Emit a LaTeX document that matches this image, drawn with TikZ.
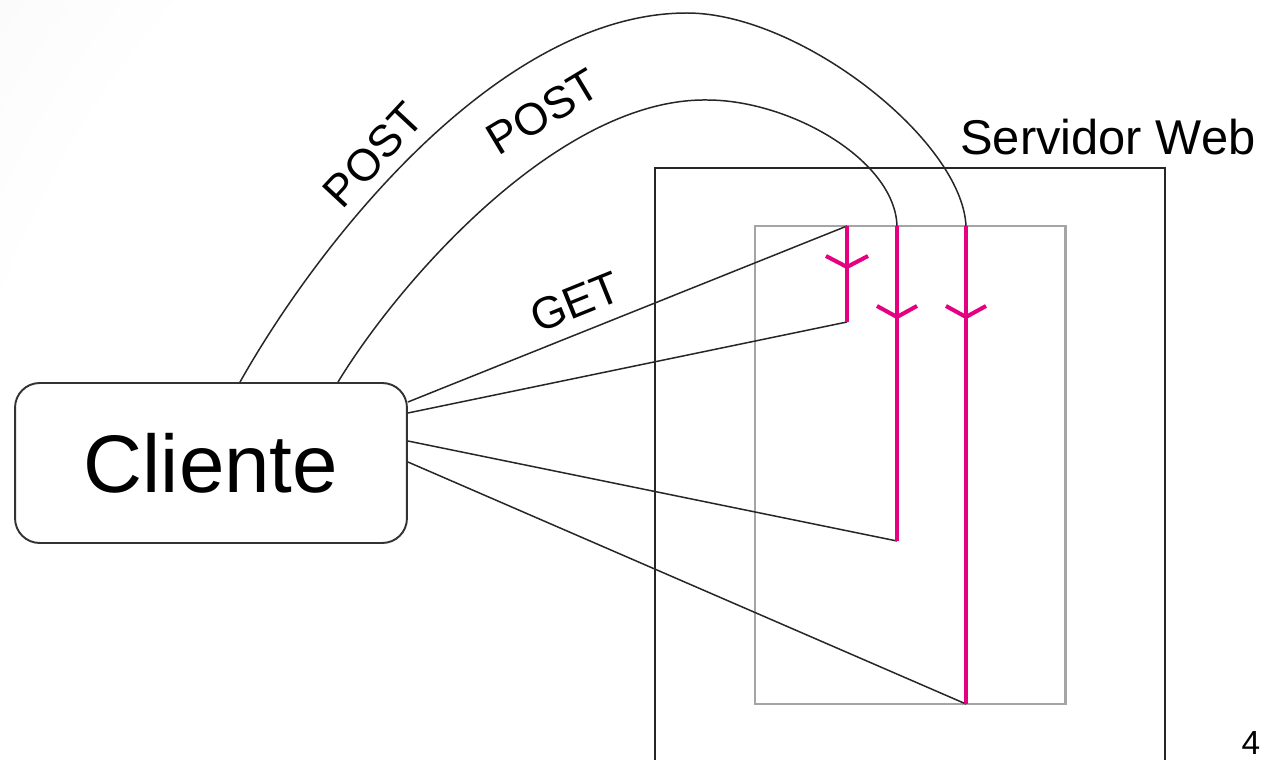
\documentclass[tikz,border=0pt]{standalone}
\usepackage{fontspec}
\setmainfont{Liberation Sans}
\usetikzlibrary{calc}
\definecolor{reqpink}{RGB}{228,0,128}
\definecolor{boxgray}{RGB}{165,165,165}
\pgfdeclareradialshading{bgglow}{\pgfpoint{0bp}{0bp}}{color(0bp)=(white); color(20bp)=(white); color(50bp)=(black!14)}
\begin{document}
\begin{tikzpicture}[x=0.02cm,y=-0.02cm,
  wire/.style={draw=black!85, line width=0.85pt},
  flow/.style={draw=reqpink, line width=2.3pt},
  lbl/.style={font=\fontsize{25.5}{26}\selectfont, inner sep=0pt},
]
\useasboundingbox (0,0) rectangle (1276,760);
% soft background
\begin{scope}
  \clip (0,0) rectangle (1276,760);
  \fill[black!14] (0,0) rectangle (1276,760);
  \shade[shading=bgglow] (880,620) circle (1150);
\end{scope}

% web server frame, open at the bottom
\draw[line width=0.9pt, black!85] (655,760) -- (655,168) -- (1165,168) -- (1165,760);
% inner frame
\draw[boxgray, line width=1.7pt] (755,226) rectangle (1065,704);
\node[anchor=base west, font=\fontsize{27.8}{28}\selectfont, inner sep=0pt] (srv) at (960,155) {Servidor Web};

% client
\node[draw=black!80, line width=1.1pt, fill=white, rounded corners=14pt,
      minimum width=7.84cm, minimum height=3.2cm,
      font=\fontsize{46.5}{46}\selectfont] (cli) at (211,463) {Cliente};

% request ends inside the server
\coordinate (g1) at (847,226);
\coordinate (g2) at (847,322);
\coordinate (p1) at (897,226);
\coordinate (p1e) at (897,541);
\coordinate (p2) at (966,226);
\coordinate (p2e) at (966,704);

% exits on the client box
\coordinate (e1) at ($(cli.east)+(0,-61)$);
\coordinate (e2) at ($(cli.east)+(0,-50)$);
\coordinate (e3) at ($(cli.east)+(0,-22)$);
\coordinate (e4) at ($(cli.east)+(0,-1)$);
\coordinate (t1) at ($(cli.north)+(29,0)$);
\coordinate (t2) at ($(cli.north)+(127,0)$);

% connectors
\draw[wire] (e1) -- (g1);
\draw[wire] (e2) -- (g2);
\draw[wire] (e3) -- (p1e);
\draw[wire] (e4) -- (p2e);
\draw[wire] (t1) .. controls (320,240) and (500,13) .. (687,13)
                 .. controls (800,13) and (962,140) .. (p2);
\draw[wire] (t2) .. controls (400,280) and (560,98) .. (707,100)
                 .. controls (790,100) and (895,160) .. (p1);

% request flows
\draw[flow] (g1) -- (g2);
\draw[flow] (p1) -- (p1e);
\draw[flow] (p2) -- (p2e);
\draw[flow] ($(g1)+(-21,30)$) -- ($(g1)+(0,41)$) -- ($(g1)+(21,30)$);
\draw[flow] ($(p1)+(-20,80)$) -- ($(p1)+(0,91)$) -- ($(p1)+(20,80)$);
\draw[flow] ($(p2)+(-20,80)$) -- ($(p2)+(0,91)$) -- ($(p2)+(20,80)$);

% labels
\node[lbl, rotate=47] (post1) at (373,155) {POST};
\node[lbl, rotate=31] (post2) at (543,112) {POST};
\node[lbl, rotate=22] (get) at (575,302) {GET};
\node[font=\fontsize{19}{19}\selectfont, anchor=base, inner sep=0pt] (pg) at (1251,754) {4};
\end{tikzpicture}
\end{document}
